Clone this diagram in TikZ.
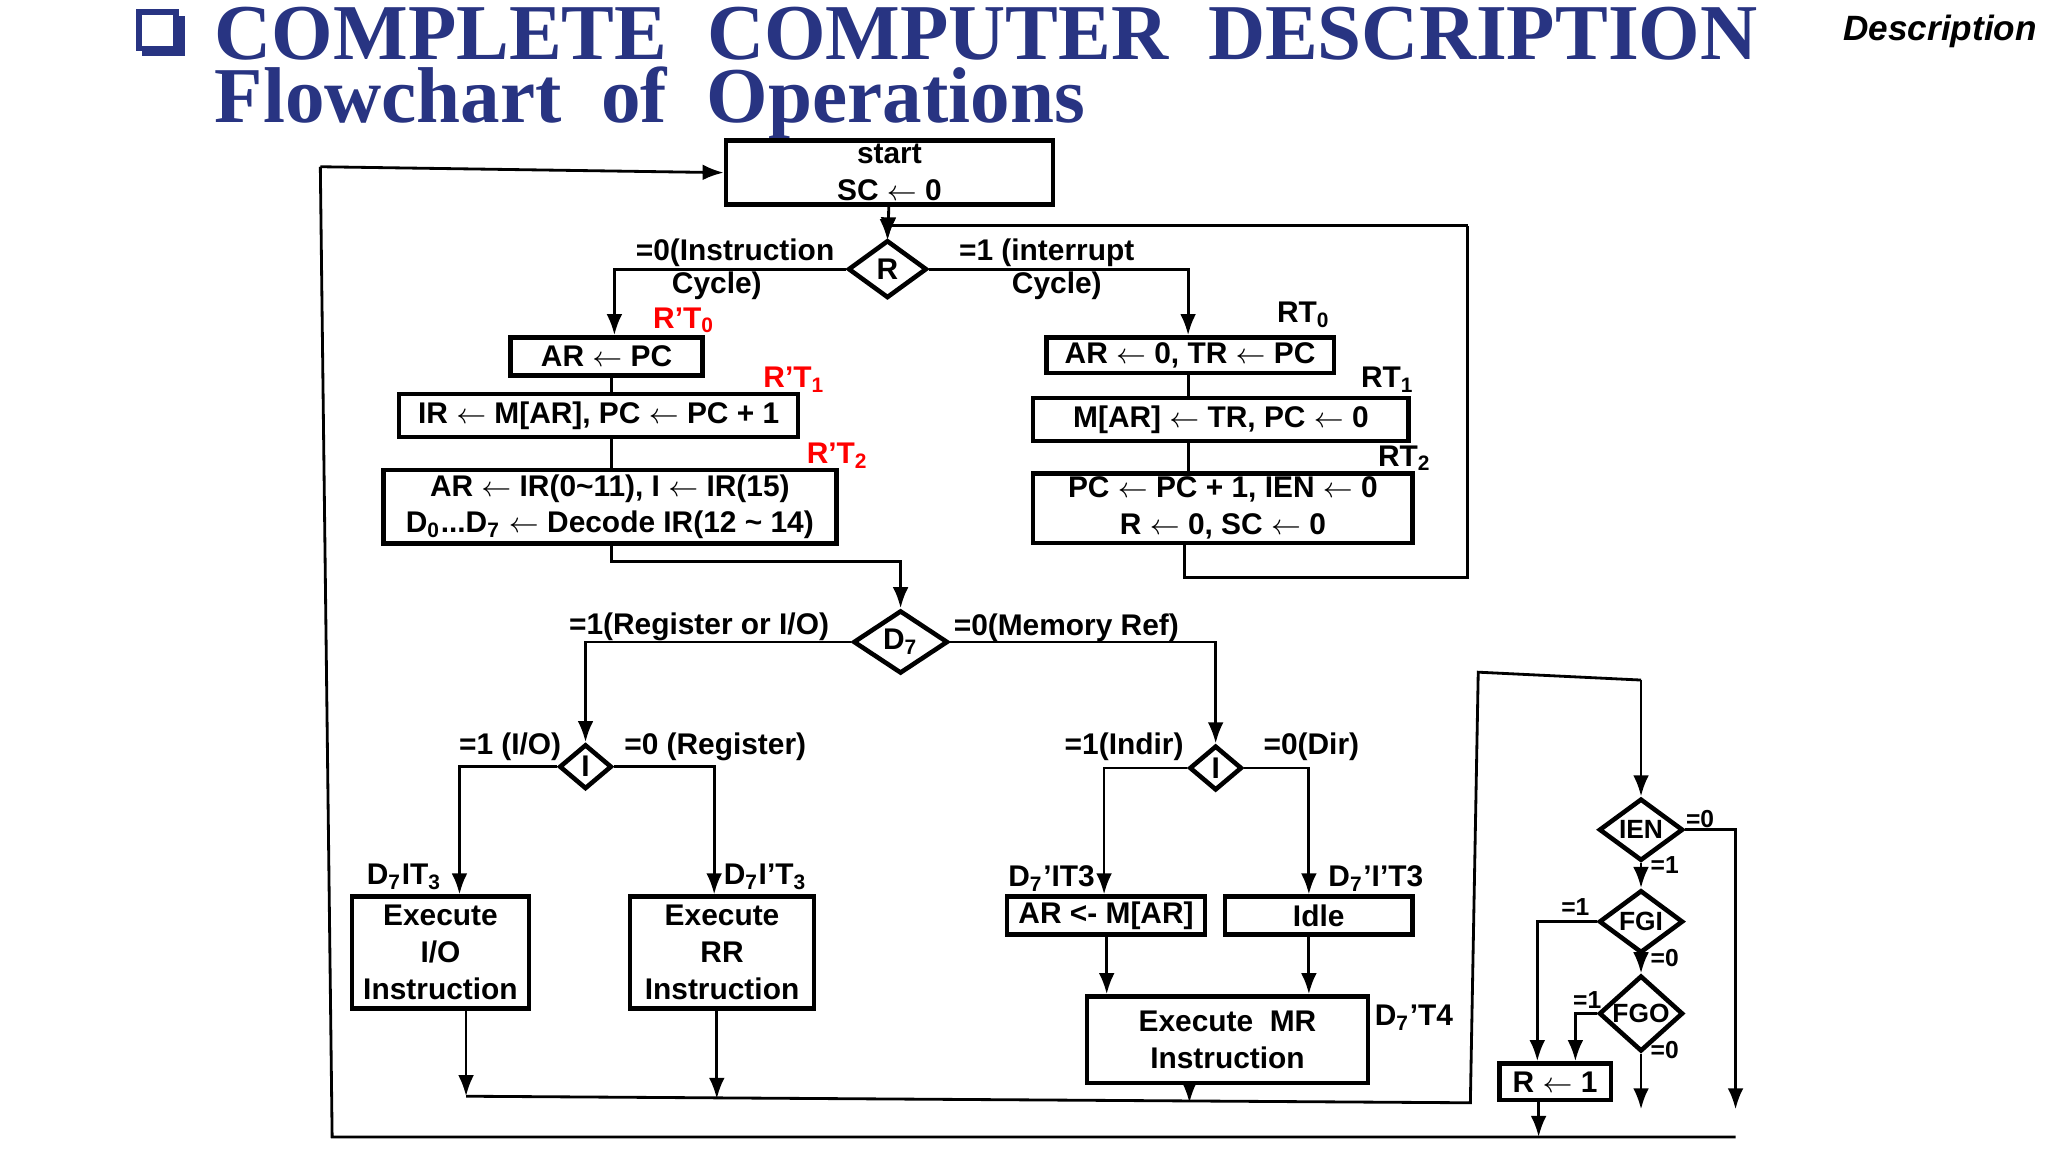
\documentclass[tikz,border=0pt]{standalone}
\usepackage{fontspec}
\setmainfont{Liberation Sans}
\newfontfamily\titlefont{Liberation Serif}
\usetikzlibrary{shapes.geometric,arrows.meta,positioning}
\newlength{\px}
\setlength{\px}{0.013128cm}
\definecolor{titleblue}{RGB}{40,52,130}
\newcommand{\la}{$\leftarrow$}
\begin{document}
\begin{tikzpicture}[x=1\px, y=-1\px,
    box/.style={rectangle, draw=black, line width=1.3pt, align=center, inner sep=1pt,
      font=\fontsize{8.5}{10.5}\selectfont\bfseries},
    dec/.style={diamond, draw=black, line width=1.3pt, inner sep=0pt,
      font=\fontsize{8.5}{10.5}\selectfont\bfseries},
    lbl/.style={inner sep=0pt, font=\fontsize{8.5}{10.5}\selectfont\bfseries},
    tim/.style={lbl, text=red},
    small/.style={lbl, font=\fontsize{7}{8}\selectfont\bfseries},
    arr/.style={-{Latex[length=6pt,width=4.5pt]}, line width=0.8pt},
    ln/.style={line width=0.8pt}]
  \useasboundingbox (0,0) rectangle (1560,877.5);

  % Title
  \draw[titleblue, line width=1.6pt] (106,9) rectangle (134,37);
  \draw[titleblue, line width=2.2pt] (108,40) -- (138,40) -- (138,12);
  \node[anchor=base west, inner sep=0pt, text=titleblue, font=\titlefont\fontsize{22.5}{25}\selectfont\bfseries]
    (title) at (163,45) {COMPLETE\ \ COMPUTER\ \ DESCRIPTION};
  \node[anchor=base west, inner sep=0pt, text=titleblue, font=\titlefont\fontsize{22.5}{25}\selectfont\bfseries]
    (subtitle) at (163,93) {Flowchart\ \ of\ \ Operations};
  \node[anchor=east, inner sep=0pt, font=\fontsize{10}{12}\selectfont\bfseries\itshape]
    (desc) at (1552,24) {Description};

  % Fetch / interrupt part
  \node[box, minimum width=249\px, minimum height=47\px] (start) at (677.5,131.5) {start\\SC \la\ 0};
  \node[dec, minimum width=60\px, minimum height=44\px] (R) at (676,205) {R};

  \node[box, minimum width=146\px, minimum height=29\px] (arpc) at (462,271.5) {AR \la\ PC};
  \node[box, minimum width=304\px, minimum height=33\px] (irm) at (456,316.5) {IR \la\ M[AR], PC \la\ PC + 1};
  \node[box, minimum width=345\px, minimum height=56\px] (decode) at (464.5,386)
    {AR \la\ IR(0\textasciitilde11), I \la\ IR(15)\\D\textsubscript{0}...D\textsubscript{7} \la\ Decode IR(12 \textasciitilde\ 14)};

  \node[box, minimum width=219\px, minimum height=27\px] (artr) at (906.5,270.5) {AR \la\ 0, TR \la\ PC};
  \node[box, minimum width=286\px, minimum height=33\px] (mar) at (930,319.5) {M[AR] \la\ TR, PC \la\ 0};
  \node[box, minimum width=289\px, minimum height=50\px] (pcien) at (931.5,387) {PC \la\ PC + 1, IEN \la\ 0\\R \la\ 0, SC \la\ 0};

  \node[lbl, anchor=south east] (l0) at (636,204) {=0(Instruction};
  \node[lbl] (l0b) at (546,218) {Cycle)};
  \node[lbl, anchor=south west] (l1) at (730,204) {=1 (interrupt};
  \node[lbl] (l1b) at (805,218) {Cycle)};
  \node[tim] (t0) at (521,244) {R'T\textsubscript{0}};
  \node[tim] (t1) at (605,289) {R'T\textsubscript{1}};
  \node[tim] (t2) at (638,347) {R'T\textsubscript{2}};
  \node[lbl] (r0) at (993,240) {RT\textsubscript{0}};
  \node[lbl] (r1) at (1057,289) {RT\textsubscript{1}};
  \node[lbl] (r2) at (1070,349) {RT\textsubscript{2}};

  % Decode part
  \node[dec, minimum width=72\px, minimum height=48\px] (D7) at (686,489) {D\textsubscript{7}};
  \node[dec, minimum width=40\px, minimum height=34\px] (Ia) at (446,584) {I};
  \node[dec, minimum width=40\px, minimum height=34\px] (Ib) at (926,585) {I};
  \node[lbl, anchor=south east] (lreg) at (632,489) {=1(Register or I/O)};
  \node[lbl, anchor=south west] (lmem) at (726,489) {=0(Memory Ref)};
  \node[lbl, anchor=south east] (lio) at (428,580) {=1 (I/O)};
  \node[lbl, anchor=south west] (lrr) at (475,580) {=0 (Register)};
  \node[lbl, anchor=south east] (lind) at (902,580) {=1(Indir)};
  \node[lbl, anchor=south west] (ldir) at (962,580) {=0(Dir)};

  \node[box, minimum width=135\px, minimum height=85\px] (exio) at (335.5,725.5) {Execute\\I/O\\Instruction};
  \node[box, minimum width=140\px, minimum height=85\px] (exrr) at (550,725.5) {Execute\\RR\\Instruction};
  \node[box, minimum width=151\px, minimum height=29\px] (arm) at (842.5,697.5) {AR <- M[AR]};
  \node[box, minimum width=143\px, minimum height=29\px] (idle) at (1004.5,697.5) {Idle};
  \node[box, minimum width=214\px, minimum height=66\px] (exmr) at (935,792) {Execute\ \ MR\\Instruction};
  \node[lbl] (tio) at (308,668) {D\textsubscript{7}IT\textsubscript{3}};
  \node[lbl] (trr) at (583,668) {D\textsubscript{7}I'T\textsubscript{3}};
  \node[lbl] (tind) at (801,669) {D\textsubscript{7}'IT3};
  \node[lbl] (tdir) at (1048,669) {D\textsubscript{7}'I'T3};
  \node[lbl] (tmr) at (1077,775) {D\textsubscript{7}'T4};

  % Interrupt check
  \node[dec, minimum width=64\px, minimum height=44\px, font=\fontsize{7.5}{9}\selectfont\bfseries] (ien) at (1250,632) {IEN};
  \node[dec, minimum width=64\px, minimum height=44\px, font=\fontsize{7.5}{9}\selectfont\bfseries] (fgi) at (1250,702) {FGI};
  \node[dec, minimum width=64\px, minimum height=44\px, font=\fontsize{7.5}{9}\selectfont\bfseries] (fgo) at (1250,772) {FGO};
  \node[box, minimum width=85\px, minimum height=28\px] (rset) at (1184.5,824) {R \la\ 1};
  \node[small] (e1) at (1295,624) {=0};
  \node[small] (e2) at (1268,659) {=1};
  \node[small] (e3) at (1200,691) {=1};
  \node[small] (e4) at (1268,730) {=0};
  \node[small] (e5) at (1209,762) {=1};
  \node[small] (e6) at (1268,800) {=0};

  % routing points
  \coordinate (loopL) at (244,127);
  \coordinate (loopB) at (253,866);
  \coordinate (loopR) at (1322,866);
  \coordinate (rback) at (1118,440);
  \coordinate (rtop) at (1118,172);
  \coordinate (join) at (1120,840);
  \coordinate (jtop) at (1126,512);
  \coordinate (mrj) at (906,840);

  % connectors
  \draw[arr] (start) -- (R);
  \draw[arr] (R.west) -| (arpc.north -| 468,0);
  \draw[arr] (R.east) -| (artr.north -| 905,0);
  \draw[ln] (arpc.south -| 466,0) -- (irm.north -| 466,0);
  \draw[ln] (irm.south -| 466,0) -- (decode.north -| 466,0);
  \draw[ln] (artr.south -| 905,0) -- (mar.north -| 905,0);
  \draw[ln] (mar.south -| 905,0) -- (pcien.north -| 905,0);
  \draw[ln] (pcien.south -| 902,0) |- (rback) -- (rtop);
  \draw[arr] (rtop) -- (676,172) -- (676,183);
  \draw[arr] (decode.south -| 466,0) |- (686,428) -- (D7.north);
  \draw[arr] (D7.west) -| (Ia.north);
  \draw[arr] (D7.east) -| (Ib.north);
  \draw[arr] (Ia.west) -| (exio.north -| 350,0);
  \draw[arr] (Ia.east) -| (exrr.north -| 544,0);
  \draw[arr] (Ib.west) -| (arm.north -| 841,0);
  \draw[arr] (Ib.east) -| (idle.north -| 997,0);
  \draw[arr] (arm.south -| 843,0) -- (exmr.north -| 843,0);
  \draw[arr] (idle.south -| 997,0) -- (exmr.north -| 997,0);
  \draw[arr] (exio.south -| 355,0) -- (355,835);
  \draw[arr] (exrr.south -| 546,0) -- (546,837);
  \draw[arr] (exmr.south -| 906,0) -- (mrj);
  \draw[ln] (355,835) -- (join) -- (jtop) -- (1250,518);
  \draw[arr] (1250,518) -- (ien.north);
  \draw[arr] (ien.south) -- (fgi.north);
  \draw[arr] (fgi.south) -- (fgo.north);
  \draw[arr] (fgi.west) -| (rset.north -| 1171,0);
  \draw[arr] (fgo.west) -| (rset.north -| 1200,0);
  \draw[arr] (ien.east) -| (1322,845);
  \draw[arr] (fgo.south) -- (1250,845);
  \draw[arr] (rset.south -| 1172,0) -- (1172,866);
  \draw[ln] (loopR) -- (loopB) -- (loopL);
  \draw[arr] (loopL) -- (start.west);
\end{tikzpicture}
\end{document}
